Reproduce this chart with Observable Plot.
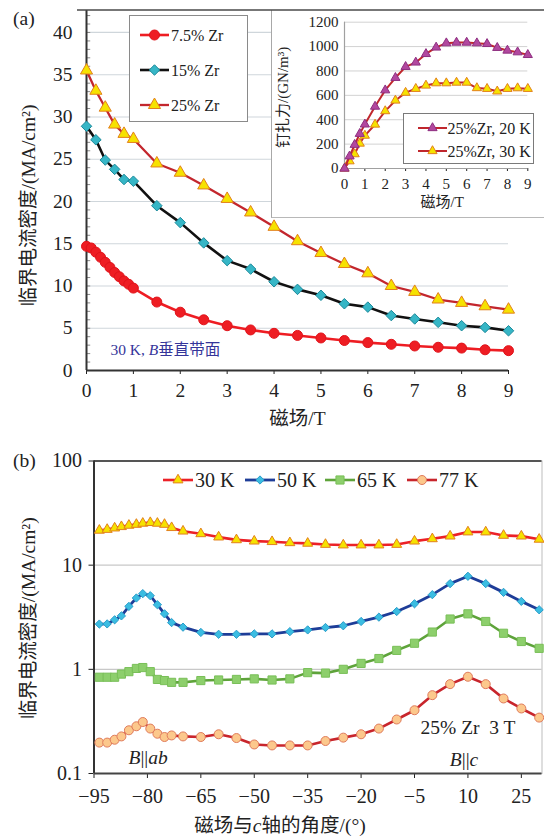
<!DOCTYPE html>
<html>
<head>
<meta charset="utf-8">
<script src="https://cdn.jsdelivr.net/npm/d3@7"></script>
<script src="https://cdn.jsdelivr.net/npm/@observablehq/plot@0.6"></script>
<style>
html,body{margin:0;padding:0;background:#fff;}
#wrap{position:relative;width:544px;height:840px;overflow:hidden;background:#fff;}
#wrap > *{position:absolute;}
#wrap svg{max-width:none !important;}
</style>
</head>
<body>
<div id="wrap"></div>
<script>
// ---------------- DATA ----------------
// Panel (a): Jc vs field at 30 K, B perpendicular to tape
const fieldZr75 = [0,0.1,0.2,0.3,0.4,0.5,0.6,0.7,0.8,0.9,1,1.5,2,2.5,3,3.5,4,4.5,5,5.5,6,6.5,7,7.5,8,8.5,9];
const jcZr75    = [14.7,14.5,14.0,13.4,12.8,12.2,11.6,11.1,10.6,10.2,9.75,8.1,6.9,6.0,5.3,4.8,4.4,4.15,3.85,3.55,3.3,3.1,2.9,2.75,2.65,2.45,2.35];
const fieldZr15 = [0,0.2,0.4,0.6,0.8,1,1.5,2,2.5,3,3.5,4,4.5,5,5.5,6,6.5,7,7.5,8,8.5,9];
const jcZr15    = [28.9,27.3,24.9,23.8,22.6,22.4,19.5,17.5,15.1,13.0,12.0,10.5,9.6,8.9,7.9,7.5,6.5,6.1,5.7,5.3,5.1,4.7];
const fieldZr25 = [0,0.2,0.4,0.6,0.8,1,1.5,2,2.5,3,3.5,4,4.5,5,5.5,6,6.5,7,7.5,8,8.5,9];
const jcZr25    = [35.5,33.1,31.1,29.1,28.0,27.4,24.5,23.4,21.9,20.3,18.7,17.0,15.3,13.9,12.6,11.5,10.0,9.3,8.4,8.0,7.6,7.2];
const seriesA   = ["7.5% Zr","15% Zr","25% Zr"];

// Inset: pinning force vs field, 25% Zr
const fieldPin  = [0,0.25,0.5,0.75,1,1.5,2,2.5,3,3.5,4,4.5,5,5.5,6,6.5,7,7.5,8,8.5,9];
const pin20K    = [0,100,195,285,362,508,642,744,834,870,940,993,1028,1033,1033,1028,1022,990,968,954,932];
const pin30K    = [0,60,118,205,270,361,471,558,622,654,681,700,700,705,705,660,654,633,654,659,654];
const seriesInset = ["25%Zr, 20 K","25%Zr, 30 K"];

// Panel (b): Jc vs angle, 25% Zr, 3 T
const angles = [-93.5,-91.3,-89.2,-87.3,-85.2,-83.1,-81.3,-79.2,-77.2,-75.2,-73.2,-70,-65,-60,-55,-50,-45,-40,-35,-30,-25,-20,-15,-10,-5,0,5,10,15,20,25,30];
const jc30K = [21.6,22.0,22.7,23.4,24.1,24.6,25.2,25.6,25.2,24.6,22.9,21.2,20.0,18.6,17.5,17.0,16.8,16.4,16.2,15.8,15.6,15.6,15.6,15.8,17.0,17.9,19.0,20.8,20.8,19.3,19.0,17.7];
const jc50K = [2.72,2.73,2.99,3.26,4.02,4.84,5.33,5.09,4.17,3.41,2.81,2.54,2.26,2.17,2.17,2.19,2.19,2.30,2.39,2.52,2.62,2.88,3.17,3.59,4.26,5.21,6.65,7.82,6.65,5.48,4.49,3.73];
const jc65K = [0.84,0.84,0.84,0.90,0.95,1.02,1.04,0.95,0.80,0.78,0.75,0.75,0.78,0.79,0.80,0.81,0.79,0.81,0.93,0.92,1.0,1.14,1.27,1.52,1.78,2.28,3.04,3.41,2.88,2.22,1.85,1.59];
const jc77K = [0.198,0.198,0.211,0.227,0.260,0.284,0.312,0.270,0.241,0.224,0.232,0.227,0.224,0.238,0.219,0.190,0.186,0.186,0.186,0.205,0.221,0.238,0.270,0.330,0.405,0.565,0.721,0.849,0.721,0.525,0.421,0.344];
const seriesB = ["30 K","50 K","65 K","77 K"];

// Tick labels
const ticksAx = [0,1,2,3,4,5,6,7,8,9];
const ticksAy = [0,5,10,15,20,25,30,35,40];
const ticksInX = [0,1,2,3,4,5,6,7,8,9];
const ticksInY = [0,200,400,600,800,1000,1200];
const ticksBx = [-95,-80,-65,-50,-35,-20,-5,10,25];
const ticksBy = [0.1,1,10,100];

// Texts
const yTitle = "临界电流密度/(MA/cm²)";
const xTitleA = "磁场/T";
const yTitleIn = "钉扎力/(GN/m³)";
const xTitleIn = "磁场/T";
const xTitleB = "磁场与c轴的角度/(°)";
const noteA = "30 K, B垂直带面";
const noteB1 = "B||ab";
const noteB2 = "25% Zr  3 T";
const noteB3 = "B||c";

// ---------------- HELPERS ----------------
const FONT = '"Liberation Serif","Noto Sans CJK SC",serif';
const rows = (xs, ys, key) => xs.map((x, i) => ({x, y: ys[i], key}));
const diamond = {draw(ctx, size){const r = Math.sqrt(size/2); ctx.moveTo(0,-r); ctx.lineTo(r,0); ctx.lineTo(0,r); ctx.lineTo(-r,0); ctx.closePath();}};
const symMap = {circle: d3.symbolCircle, triangle: d3.symbolTriangle, square: d3.symbolSquare};

const stA = {
  "7.5% Zr": {line:"#ee1d23", width:2.6, symbol:"circle", r:5, fill:"#ee1d23", stroke:"#e0141b"},
  "15% Zr":  {line:"#111111", width:2.6, symbol:diamond, r:4.2, fill:"#36b6c6", stroke:"#1d8a9b"},
  "25% Zr":  {line:"#c3262d", width:2.3, symbol:"triangle", r:4.5, fill:"#f6e200", stroke:"#e2801c"}
};
const stIn = {
  "25%Zr, 20 K": {line:"#c0272d", width:2, symbol:"triangle", r:3.4, fill:"#b2489f", stroke:"#8e2e80"},
  "25%Zr, 30 K": {line:"#c0272d", width:2, symbol:"triangle", r:3.4, fill:"#f6e200", stroke:"#e2801c"}
};
const stB = {
  "30 K": {line:"#ec2127", width:2.6, symbol:"triangle", r:3.7, fill:"#f6e200", stroke:"#e2801c"},
  "50 K": {line:"#1e3d98", width:2.8, symbol:diamond, r:3.3, fill:"#3bbde2", stroke:"#2a9dc9"},
  "65 K": {line:"#5ea33a", width:2.6, symbol:"square", r:4.6, fill:"#8dcf6c", stroke:"#79bf58"},
  "77 K": {line:"#c8252c", width:2.6, symbol:"circle", r:4.5, fill:"#fcc88c", stroke:"#e07b5c"}
};

function seriesMarks(data, st) {
  return [
    Plot.line(data, {x:"x", y:"y", stroke: st.line, strokeWidth: st.width}),
    Plot.dot(data, {x:"x", y:"y", symbol: st.symbol, r: st.r, fill: st.fill, stroke: st.stroke, strokeWidth: 1})
  ];
}
function richText(svg, plain, parts) {
  d3.select(svg).selectAll("text").filter(function(){ return this.textContent === plain; }).each(function(){
    const t = d3.select(this); t.text(null);
    for (const [s, it] of parts) { const sp = t.append("tspan").text(s); if (it) sp.attr("font-style","italic"); }
  });
}
const title = (txt, opts) => Plot.text([txt], {text: d => d, textAnchor: "middle", lineAnchor: "middle", ...opts});

const wrap = document.getElementById("wrap");

// ---------------- PANEL (a) ----------------
const dataA = [rows(fieldZr75, jcZr75, seriesA[0]), rows(fieldZr15, jcZr15, seriesA[1]), rows(fieldZr25, jcZr25, seriesA[2])];
const minorA = d3.range(1, 43);
const plotA = Plot.plot({
  width: 544, height: 430,
  marginLeft: 86, marginRight: 36, marginTop: 10, marginBottom: 60,
  style: {background: "transparent", fontFamily: FONT, fontSize: "19.5px", color: "#222", overflow: "visible"},
  x: {domain: [0, 9], ticks: ticksAx, tickSize: 4, tickPadding: 9, label: null},
  y: {domain: [0, 42.6], ticks: ticksAy, tickSize: 0, tickPadding: 14, label: null},
  marks: [
    Plot.ruleY(ticksAy.filter(d => d > 0), {stroke: "#cfd6db", strokeWidth: 1.2}),
    Plot.ruleY(minorA, {y: d => d, x1: 0, x2: 0.09, stroke: "#888"}),
    Plot.ruleX([0], {stroke: "#333", strokeWidth: 2}),
    Plot.ruleY([0], {stroke: "#333", strokeWidth: 2}),
    ...seriesMarks(dataA[0], stA[seriesA[0]]),
    ...seriesMarks(dataA[1], stA[seriesA[1]]),
    ...seriesMarks(dataA[2], stA[seriesA[2]]),
    Plot.text([noteA], {x: 0.51, y: 2.37, text: d => d, textAnchor: "start", fill: "#35359a", fontSize: 15.5}),
    title(yTitle, {frameAnchor: "left", dx: -58, dy: 15, rotate: -90, fontSize: 19.5}),
    title(xTitleA, {frameAnchor: "bottom", dy: 48, fontSize: 19.5})
  ]
});
plotA.style.left = "0px"; plotA.style.top = "0px";
richText(plotA, noteA, [["30 K, ", false], ["B", true], ["垂直带面", false]]);
wrap.appendChild(plotA);

// ---------------- INSET ----------------
const insetBox = document.createElement("div");
Object.assign(insetBox.style, {left: "271px", top: "10px", width: "273px", height: "208px", background: "#fff",
  borderLeft: "1px solid #a8a8a8", borderBottom: "1px solid #b8b8b8", boxSizing: "border-box"});
wrap.appendChild(insetBox);
const dataIn = [rows(fieldPin, pin20K, seriesInset[0]), rows(fieldPin, pin30K, seriesInset[1])];
const plotIn = Plot.plot({
  width: 269, height: 207,
  marginLeft: 73, marginRight: 12.7, marginTop: 11.7, marginBottom: 49,
  style: {background: "transparent", fontFamily: FONT, fontSize: "15px", color: "#222", overflow: "visible"},
  x: {domain: [0, 9], ticks: ticksInX, tickSize: 3, tickPadding: 7, label: null},
  y: {domain: [0, 1200], ticks: ticksInY, tickFormat: d => String(d), tickSize: 0, tickPadding: 6, label: null},
  marks: [
    Plot.ruleY(ticksInY.filter(d => d > 0), {stroke: "#d2d2d2"}),
    Plot.ruleX([0], {stroke: "#a0a0a0", strokeWidth: 1.2}),
    Plot.ruleY([0], {stroke: "#a0a0a0", strokeWidth: 1.2}),
    ...seriesMarks(dataIn[1], stIn[seriesInset[1]]),
    ...seriesMarks(dataIn[0], stIn[seriesInset[0]]),
    title(yTitleIn, {frameAnchor: "left", dx: -61, dy: 2, rotate: -90, fontSize: 15}),
    title(xTitleIn, {frameAnchor: "bottom", dx: 6, dy: 34, fontSize: 15})
  ]
});
plotIn.style.left = "271px"; plotIn.style.top = "10px";
wrap.appendChild(plotIn);

// ---------------- PANEL (b) ----------------
const dataB = [rows(angles, jc30K, seriesB[0]), rows(angles, jc50K, seriesB[1]), rows(angles, jc65K, seriesB[2]), rows(angles, jc77K, seriesB[3])];
const plotB = Plot.plot({
  width: 544, height: 410,
  marginLeft: 93.5, marginRight: 2.5, marginTop: 30.5, marginBottom: 67,
  style: {background: "transparent", fontFamily: FONT, fontSize: "20px", color: "#222", overflow: "visible"},
  x: {domain: [-95, 30.8], ticks: ticksBx, tickSize: 5, tickPadding: 10, label: null},
  y: {type: "log", domain: [0.1, 100], ticks: ticksBy, tickFormat: d => String(d), tickSize: 5, tickPadding: 7, label: null},
  marks: [
    Plot.ruleY([1, 10], {stroke: "#c8c8c8", strokeWidth: 1.2}),
    Plot.frame({stroke: "#bdbdbd"}),
    Plot.ruleY([100], {stroke: "#555", strokeWidth: 2}),
    Plot.ruleX([-95], {stroke: "#333", strokeWidth: 2}),
    Plot.ruleY([0.1], {stroke: "#444", strokeWidth: 2}),
    ...seriesMarks(dataB[0], stB[seriesB[0]]),
    ...seriesMarks(dataB[1], stB[seriesB[1]]),
    ...seriesMarks(dataB[2], stB[seriesB[2]]),
    ...seriesMarks(dataB[3], stB[seriesB[3]]),
    Plot.text([noteB1], {x: -85.3, y: 0.143, text: d => d, textAnchor: "start", fontSize: 19.5}),
    Plot.text([noteB2], {x: -3.3, y: 0.272, text: d => d, textAnchor: "start", fontSize: 19.5}),
    Plot.text([noteB3], {x: 8.9, y: 0.1365, text: d => d, fontSize: 19.5}),
    title(yTitle, {frameAnchor: "left", dx: -65.5, dy: 1, rotate: -90, fontSize: 19.5}),
    title(xTitleB, {frameAnchor: "bottom", dx: -38, dy: 52, fontSize: 19.5})
  ]
});
plotB.style.left = "0px"; plotB.style.top = "430px";
richText(plotB, noteB1, [["B", true], ["||", false], ["ab", true]]);
richText(plotB, noteB3, [["B", true], ["||", false], ["c", true]]);
richText(plotB, xTitleB, [["磁场与", false], ["c", true], ["轴的角度/(°)", false]]);
wrap.appendChild(plotB);

// ---------------- OVERLAY: frame line, legends, panel letters ----------------
const ov = d3.create("svg").attr("width", 544).attr("height", 840)
  .style("left", "0px").style("top", "0px").style("font-family", FONT).style("pointer-events", "none");
ov.append("line").attr("x1", 77).attr("x2", 544).attr("y1", 10).attr("y2", 10).attr("stroke", "#4a4a4a").attr("stroke-width", 1.6);

function legendItem(g, x1, x2, y, st, label, tx, fs) {
  g.append("line").attr("x1", x1).attr("x2", x2).attr("y1", y).attr("y2", y).attr("stroke", st.line).attr("stroke-width", st.width);
  const sym = typeof st.symbol === "string" ? symMap[st.symbol] : st.symbol;
  g.append("path").attr("d", d3.symbol(sym, Math.PI * st.r * st.r)())
    .attr("transform", `translate(${(x1 + x2) / 2},${y})`).attr("fill", st.fill).attr("stroke", st.stroke);
  g.append("text").attr("x", tx).attr("y", y).attr("dy", "0.35em").attr("font-size", fs).attr("fill", "#222").text(label);
}
// legend (a)
ov.append("rect").attr("x", 129.5).attr("y", 15.5).attr("width", 118).attr("height", 106).attr("fill", "#fff").attr("stroke", "#8a8a8a");
seriesA.forEach((s, i) => legendItem(ov, 140, 169, 35 + i * 35, stA[s], s, 171, 16));
// legend inset
ov.append("rect").attr("x", 403.5).attr("y", 113.5).attr("width", 130).attr("height", 50).attr("fill", "#fff").attr("stroke", "#7a7a7a");
seriesInset.forEach((s, i) => legendItem(ov, 418, 447, 128 + i * 23, stIn[s], s, 447.5, 16));
// legend (b)
const legBx = [163, 245, 325, 407];
seriesB.forEach((s, i) => legendItem(ov, legBx[i], legBx[i] + 30, 480, stB[s], s, legBx[i] + 32, 20));
// panel letters
ov.append("text").attr("x", 13).attr("y", 18.5).attr("dy", "0.35em").attr("font-size", 19.5).attr("fill", "#222").text("(a)");
ov.append("text").attr("x", 13).attr("y", 460).attr("dy", "0.35em").attr("font-size", 19.5).attr("fill", "#222").text("(b)");
wrap.appendChild(ov.node());
</script>
</body>
</html>
